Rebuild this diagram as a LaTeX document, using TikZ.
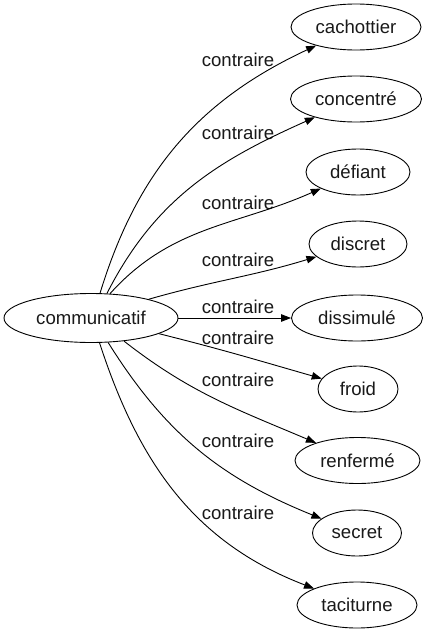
\documentclass[tikz,border=0pt]{standalone}
\usepackage{fontspec}
\setmainfont{Liberation Sans}
\usetikzlibrary{arrows.meta,shapes.geometric}
\begin{document}
\begin{tikzpicture}[x=1pt,y=-1pt,
  every node/.style={font=\fontsize{18.6}{21}\selectfont, text=black!90},
  wnode/.style={draw, ellipse, inner sep=0pt, line width=0.9pt, minimum height=46pt},
  lbl/.style={inner sep=0pt},
  edge/.style={line width=0.9pt, -{Triangle[length=10pt,width=7.5pt]}}]
\useasboundingbox (0,0) rectangle (429,635);
\node[wnode, minimum width=174pt, minimum height=49pt] (c) at (91,318) {communicatif};
\node[wnode, minimum width=130pt] (n1) at (356,27) {cachottier};
\node[wnode, minimum width=131pt] (n2) at (356,99) {concentré};
\node[wnode, minimum width=104pt] (n3) at (358,172) {défiant};
\node[wnode, minimum width=98pt] (n4) at (358,244) {discret};
\node[wnode, minimum width=131pt] (n5) at (357,318) {dissimulé};
\node[wnode, minimum width=80pt] (n6) at (358,389) {froid};
\node[wnode, minimum width=125pt] (n7) at (357.5,460.5) {renfermé};
\node[wnode, minimum width=89pt] (n8) at (357,533) {secret};
\node[wnode, minimum width=120pt] (n9) at (357,605) {taciturne};
\node[lbl] (l1) at (238,60) {contraire};
\node[lbl] (l2) at (238,133) {contraire};
\node[lbl] (l3) at (238,203) {contraire};
\node[lbl] (l4) at (238,260) {contraire};
\node[lbl] (l5) at (238,307) {contraire};
\node[lbl] (l6) at (238,338) {contraire};
\node[lbl] (l7) at (238,380) {contraire};
\node[lbl] (l8) at (238,441) {contraire};
\node[lbl] (l9) at (238,513) {contraire};
\draw[edge] (c.70) to[out=73,in=205] (n1);
\draw[edge] (c.57) to[out=63,in=204] (n2);
\draw[edge] (c.52) to[out=48,in=204] (n3);
\draw[edge] (c.18) to[out=16,in=197] (n4);
\draw[edge] (c) -- (n5);
\draw[edge] (c.-13) to[out=-14,in=164] (n6);
\draw[edge] (c.-35) to[out=-38,in=157] (n7);
\draw[edge] (c.-55) to[out=-58,in=158] (n8);
\draw[edge] (c.-71) to[out=-72,in=159] (n9);
\end{tikzpicture}
\end{document}
